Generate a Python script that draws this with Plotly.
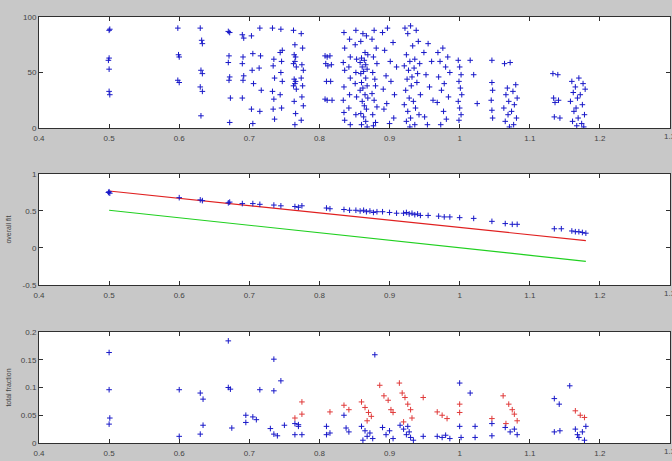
import plotly.graph_objects as go

# ---------------- top panel data ----------------
top_x = [
    0.500, 0.501, 0.500, 0.499, 0.500, 0.500, 0.501,
    0.598, 0.599, 0.600, 0.598, 0.600,
    0.630, 0.632, 0.633, 0.631, 0.633, 0.630, 0.633, 0.631,
    0.670, 0.672, 0.671, 0.670, 0.672, 0.671, 0.673, 0.672,
    0.690, 0.692, 0.691, 0.690, 0.692, 0.691, 0.690,
    0.703, 0.705, 0.704, 0.706, 0.703, 0.705,
    0.715, 0.716, 0.714, 0.717, 0.715,
    0.733, 0.735, 0.734, 0.736, 0.733, 0.735, 0.734, 0.736,
    0.745, 0.747, 0.744, 0.746, 0.745, 0.747, 0.744, 0.746,
    0.763, 0.765, 0.764, 0.766, 0.765, 0.763, 0.767, 0.764, 0.766, 0.765, 0.763, 0.767, 0.764, 0.766, 0.765,
    0.774, 0.776, 0.775, 0.777, 0.774, 0.776, 0.775, 0.777, 0.774,
    0.808, 0.811, 0.809, 0.812, 0.810, 0.808, 0.811,
    0.815, 0.817, 0.816, 0.818,
    0.835, 0.836, 0.834, 0.836, 0.835, 0.834, 0.836, 0.835,
    0.843, 0.844, 0.842, 0.844, 0.843, 0.842, 0.844,
    0.852, 0.851, 0.853, 0.852, 0.851, 0.853, 0.852,
    0.862, 0.867, 0.859, 0.865, 0.869, 0.860, 0.864, 0.858, 0.866, 0.861, 0.868, 0.863, 0.859, 0.866,
    0.860, 0.868, 0.862, 0.858, 0.865, 0.869, 0.861, 0.864, 0.867, 0.859, 0.863, 0.866, 0.860, 0.868,
    0.878, 0.875, 0.881, 0.877, 0.882, 0.876, 0.879, 0.880, 0.875, 0.878, 0.882, 0.876, 0.880, 0.877,
    0.897, 0.890, 0.905, 0.893, 0.901, 0.910, 0.895, 0.902, 0.891, 0.907, 0.896, 0.892, 0.906, 0.900,
    0.930, 0.922, 0.938, 0.926, 0.941, 0.933, 0.924, 0.936, 0.929, 0.943, 0.921, 0.935, 0.927, 0.940, 0.932,
    0.925, 0.939, 0.931, 0.923, 0.944, 0.928, 0.934, 0.921, 0.937, 0.926, 0.942, 0.930, 0.924, 0.936, 0.929,
    0.955, 0.949, 0.960, 0.952, 0.957, 0.962, 0.950, 0.954,
    0.976, 0.969, 0.983, 0.972, 0.980, 0.986, 0.970, 0.978, 0.974, 0.984, 0.968, 0.977, 0.981, 0.973,
    0.998, 1.000, 1.002, 0.999, 1.001, 1.003, 0.998, 1.000, 1.002, 0.999,
    1.015, 1.020, 1.025,
    1.046, 1.046, 1.047, 1.045, 1.046, 1.047,
    1.072, 1.064, 1.080, 1.068, 1.076, 1.066, 1.082, 1.070, 1.078, 1.063, 1.074, 1.069, 1.081, 1.065, 1.077, 1.071,
    1.133, 1.140, 1.134, 1.141, 1.136, 1.135, 1.143,
    1.170, 1.160, 1.176, 1.165, 1.179, 1.162, 1.172, 1.168, 1.158, 1.175, 1.166, 1.163, 1.178, 1.169, 1.161, 1.174, 1.167, 1.177,
]
top_y = [
    88, 89, 63, 61, 53, 33, 30,
    90, 66, 64, 43, 41,
    90, 79, 76, 52, 49, 37, 33, 11,
    87, 86, 65, 59, 46, 43, 27, 5,
    84, 81, 64, 58, 47, 43, 27,
    83, 67, 52, 40, 17, 4,
    90, 65, 54, 34, 15,
    90, 62, 56, 45, 33, 26, 17, 8,
    89, 70, 68, 60, 50, 42, 30, 18,
    88, 75, 66, 64, 60, 58, 55, 44, 42, 40, 38, 35, 24, 13, 3,
    85, 72, 57, 52, 45, 38, 28, 20, 7,
    65, 64, 58, 56, 42, 26, 25,
    65, 57, 42, 25,
    86, 72, 59, 52, 37, 25, 7, 14,
    80, 64, 55, 45, 30, 18, 3,
    88, 75, 62, 50, 40, 28, 12,
    85, 83, 78, 68, 66, 63, 61, 59, 57, 55, 53, 51, 49, 45,
    41, 38, 36, 34, 30, 27, 24, 20, 17, 13, 10, 6, 3, 1,
    88, 80, 72, 64, 58, 50, 44, 38, 31, 25, 19, 12, 5, 2,
    90, 86, 77, 70, 60, 55, 47, 42, 35, 30, 22, 17, 9, 4,
    92, 90, 88, 85, 78, 74, 66, 62, 60, 58, 56, 54, 52, 49, 46,
    44, 41, 38, 34, 30, 27, 24, 21, 18, 15, 12, 9, 6, 3, 1,
    76, 68, 60, 48, 37, 25, 10, 3,
    72, 68, 64, 60, 55, 50, 46, 40, 34, 28, 23, 15, 8, 3,
    61, 55, 48, 42, 36, 30, 24, 18, 12, 7,
    61, 48, 22,
    61, 41, 34, 25, 16, 9,
    59, 58, 39, 36, 33, 30, 27, 24, 21, 18, 15, 12, 9, 6, 3, 1,
    49, 48, 27, 25, 23, 10, 9,
    45, 42, 40, 37, 35, 32, 30, 27, 24, 21, 18, 15, 12, 9, 6, 4, 2, 1,
]

# ---------------- middle panel data ----------------
mid_x = [0.500, 0.501, 0.499, 0.600, 0.630, 0.633, 0.670, 0.672, 0.690, 0.705, 0.715,
         0.735, 0.745, 0.765, 0.770, 0.775, 0.810, 0.815, 0.835, 0.843, 0.852,
         0.858, 0.863, 0.867, 0.872, 0.877, 0.882, 0.890, 0.900, 0.910,
         0.920, 0.924, 0.928, 0.932, 0.936, 0.940, 0.944, 0.955, 0.970, 0.978, 0.986,
         1.000, 1.020, 1.046, 1.065, 1.075, 1.082, 1.135, 1.145,
         1.160, 1.165, 1.170, 1.175, 1.180]
mid_y = [0.76, 0.74, 0.75, 0.68, 0.65, 0.64, 0.61, 0.62, 0.60, 0.60, 0.59,
         0.58, 0.57, 0.56, 0.55, 0.57, 0.54, 0.53, 0.52, 0.51, 0.51,
         0.50, 0.51, 0.49, 0.50, 0.48, 0.49, 0.49, 0.48, 0.47,
         0.47, 0.48, 0.46, 0.47, 0.45, 0.46, 0.44, 0.44, 0.43, 0.42, 0.42,
         0.41, 0.40, 0.36, 0.33, 0.32, 0.32, 0.26, 0.26,
         0.23, 0.22, 0.22, 0.21, 0.20]
red_line_x = [0.50, 1.18]
red_line_y = [0.77, 0.10]
green_line_x = [0.50, 1.18]
green_line_y = [0.51, -0.18]

# ---------------- bottom panel data ----------------
bot_blue_x = [0.500, 0.500, 0.501, 0.500, 0.600, 0.600, 0.630, 0.634, 0.634, 0.630,
              0.670, 0.670, 0.673, 0.675, 0.695, 0.695, 0.705, 0.710, 0.715,
              0.735, 0.735, 0.730, 0.735, 0.740, 0.745, 0.750,
              0.765, 0.770, 0.765, 0.775, 0.770, 0.810, 0.810, 0.815,
              0.835, 0.838, 0.842, 0.860, 0.865, 0.868, 0.872, 0.876, 0.862, 0.879,
              0.890, 0.895, 0.900, 0.905, 0.915, 0.920, 0.924, 0.928, 0.930, 0.934, 0.926,
              0.948, 0.968, 0.975, 0.980, 0.986, 1.000, 1.000, 1.002,
              1.015, 1.022, 1.022, 1.046, 1.046, 1.065, 1.072, 1.078, 1.082,
              1.135, 1.142, 1.135, 1.143, 1.157,
              1.165, 1.170, 1.175, 1.178, 1.168, 1.180]
bot_blue_y = [0.163, 0.096, 0.045, 0.034, 0.096, 0.012, 0.090, 0.079, 0.032, 0.016,
              0.184, 0.100, 0.097, 0.027, 0.050, 0.037, 0.047, 0.042, 0.096,
              0.151, 0.094, 0.026, 0.016, 0.013, 0.112, 0.032,
              0.035, 0.030, 0.015, 0.015, 0.033, 0.030, 0.015, 0.018,
              0.050, 0.027, 0.020, 0.030, 0.022, 0.012, 0.018, 0.008, 0.005, 0.159,
              0.028, 0.015, 0.022, 0.008, 0.032, 0.025, 0.015, 0.020, 0.010, 0.005, 0.030,
              0.012, 0.012, 0.010, 0.014, 0.008, 0.108, 0.030, 0.010,
              0.090, 0.030, 0.010, 0.035, 0.013, 0.028, 0.020, 0.025, 0.015,
              0.080, 0.070, 0.020, 0.022, 0.103,
              0.025, 0.010, 0.020, 0.005, 0.015, 0.030]
bot_red_x = [0.765, 0.775, 0.775, 0.815, 0.835, 0.842,
             0.860, 0.865, 0.870, 0.874, 0.868,
             0.886, 0.892, 0.898, 0.902, 0.905,
             0.914, 0.918, 0.922, 0.926, 0.930, 0.932, 0.920,
             0.948, 0.968, 0.975, 0.982, 1.000, 1.000, 1.046,
             1.062, 1.070, 1.075, 1.078, 1.082, 1.066,
             1.165, 1.172, 1.178]
bot_red_y = [0.045, 0.074, 0.052, 0.056, 0.068, 0.060,
             0.074, 0.064, 0.055, 0.048, 0.040,
             0.104, 0.085, 0.077, 0.060, 0.055,
             0.108, 0.090, 0.082, 0.070, 0.060, 0.045, 0.038,
             0.082, 0.056, 0.050, 0.044, 0.070, 0.055, 0.044,
             0.085, 0.070, 0.060, 0.052, 0.040, 0.035,
             0.058, 0.050, 0.046]

x_ticks = [0.4, 0.5, 0.6, 0.7, 0.8, 0.9, 1.0, 1.1, 1.2, 1.3]
x_tick_text = ["0.4", "0.5", "0.6", "0.7", "0.8", "0.9", "1", "1.1", "1.2", "1.3"]
top_ticks = [0, 50, 100]
mid_ticks = [-0.5, 0, 0.5, 1]
mid_tick_text = ["-0.5", "0", "0.5", "1"]
bot_ticks = [0, 0.05, 0.1, 0.15, 0.2]
bot_tick_text = ["0", "0.05", "0.1", "0.15", "0.2"]

cross = dict(symbol="cross-thin-open", size=4, line=dict(width=1, color="#1818c8"), color="#1818c8")
cross_red = dict(symbol="cross-thin-open", size=4, line=dict(width=1, color="#e03a3a"), color="#e03a3a")

fig = go.Figure()
fig.add_trace(go.Scatter(x=top_x, y=top_y, mode="markers", marker=cross, xaxis="x", yaxis="y"))
fig.add_trace(go.Scatter(x=red_line_x, y=red_line_y, mode="lines",
                         line=dict(color="#e02020", width=1.2), xaxis="x2", yaxis="y2"))
fig.add_trace(go.Scatter(x=green_line_x, y=green_line_y, mode="lines",
                         line=dict(color="#20d020", width=1.2), xaxis="x2", yaxis="y2"))
fig.add_trace(go.Scatter(x=mid_x, y=mid_y, mode="markers", marker=cross, xaxis="x2", yaxis="y2"))
fig.add_trace(go.Scatter(x=bot_red_x, y=bot_red_y, mode="markers", marker=cross_red, xaxis="x3", yaxis="y3"))
fig.add_trace(go.Scatter(x=bot_blue_x, y=bot_blue_y, mode="markers", marker=cross, xaxis="x3", yaxis="y3"))

tickfont = dict(family="Arial", size=8, color="#444444")
axis_common = dict(showline=True, linecolor="#303030", linewidth=1, mirror="ticks",
                   ticks="inside", ticklen=4, tickcolor="#303030", showgrid=False,
                   zeroline=False, tickfont=tickfont)

def xax(anchor):
    return dict(range=[0.4, 1.3], tickvals=x_ticks, ticktext=x_tick_text, anchor=anchor,
                domain=[0, 1], ticklabelstandoff=2, **axis_common)

# the last tick label ("1.3") sits on the right edge and is partly cut off, as in the original
edge_labels = [
    dict(text=x_tick_text[-1], xref=xr, yref=yr + " domain", x=x_ticks[-1], y=0,
         xanchor="center", yanchor="top", yshift=-2, showarrow=False, font=tickfont)
    for xr, yr in (("x", "y"), ("x2", "y2"), ("x3", "y3"))
]

fig.update_layout(
    width=672, height=461,
    paper_bgcolor="#c8c8c8", plot_bgcolor="white",
    showlegend=False,
    margin=dict(l=39, r=2, t=17, b=18),
    xaxis=xax("y"), xaxis2=xax("y2"), xaxis3=xax("y3"),
    yaxis=dict(range=[0, 100], tickvals=top_ticks, domain=[0.7394, 1.0], anchor="x", **axis_common),
    yaxis2=dict(range=[-0.5, 1], tickvals=mid_ticks, ticktext=mid_tick_text, domain=[0.3709, 0.6315],
                anchor="x2", **axis_common),
    yaxis3=dict(range=[0, 0.2], tickvals=bot_ticks, ticktext=bot_tick_text, domain=[0, 0.2606],
                anchor="x3", **axis_common),
    annotations=[
        dict(text="overall fit", xref="paper", yref="paper", x=-0.049, y=0.5012, textangle=-90,
             showarrow=False, font=dict(family="Arial", size=7, color="#444444"), xanchor="center", yanchor="middle"),
        dict(text="total fraction", xref="paper", yref="paper", x=-0.049, y=0.1303, textangle=-90,
             showarrow=False, font=dict(family="Arial", size=7, color="#444444"), xanchor="center", yanchor="middle"),
    ] + edge_labels,
)

fig.write_html("out.html", config={"displayModeBar": False},
               post_script="document.body.style.margin='0';")
